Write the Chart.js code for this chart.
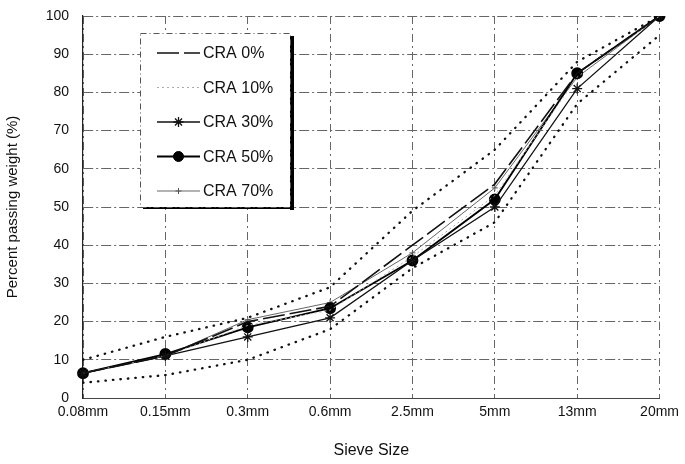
<!DOCTYPE html>
<html>
<head>
<meta charset="utf-8">
<script src="https://cdn.jsdelivr.net/npm/chart.js@4/dist/chart.umd.min.js"></script>
<style>
  html, body { margin: 0; padding: 0; background: #fff; }
  #wrap { width: 685px; height: 464px; }
</style>
</head>
<body>
<div id="wrap"><canvas id="chart" width="685" height="464"></canvas></div>
<script>
// Chart data
const sieveSizes = ["0.08mm", "0.15mm", "0.3mm", "0.6mm", "2.5mm", "5mm", "13mm", "20mm"];
const yTicks = [0, 10, 20, 30, 40, 50, 60, 70, 80, 90, 100];
const cra0 = [6.5, 11, 20, 24, 40, 56, 85, 100];
const cra10 = [6.5, 11, 19, 23, 37, 53, 84, 100];
const cra30 = [6.5, 11, 16, 21, 36, 50, 81, 100];
const cra50 = [6.5, 11.5, 18.5, 23.5, 36, 52, 85, 100];
const cra70 = [6.5, 11, 20.5, 25, 38, 55, 84, 100];
const upperLimit = [10, 16, 21, 29, 49, 65, 88, 100];
const lowerLimit = [4, 6, 10, 18, 34, 46, 77, 95];

const FONT = "'Liberation Sans', Arial, Helvetica, sans-serif";

const datasets = [
  { label: "CRA 0%", data: cra0, borderColor: "#111", borderWidth: 1.6, borderDash: [22, 5], pointRadius: 0, inLegend: true },
  { label: "CRA 10%", data: cra10, borderColor: "#aaa", borderWidth: 1, borderDash: [2, 3], pointRadius: 0, inLegend: true },
  { label: "CRA 30%", data: cra30, borderColor: "#111", borderWidth: 1.3, pointStyle: "star", pointRadius: 5, pointBorderWidth: 1.3, pointBorderColor: "#111", inLegend: true },
  { label: "CRA 50%", data: cra50, borderColor: "#000", borderWidth: 1.9, pointStyle: "circle", pointRadius: 5, pointBackgroundColor: "#000", pointBorderColor: "#000", inLegend: true },
  { label: "CRA 70%", data: cra70, borderColor: "#666", borderWidth: 1, pointStyle: "cross", pointRadius: 3, pointBorderColor: "#555", pointBorderWidth: 1, inLegend: true },
  { label: "Upper limit", data: upperLimit, borderColor: "#111", borderWidth: 2.3, borderDash: [0.5, 7], borderCapStyle: "round", pointRadius: 0, inLegend: false },
  { label: "Lower limit", data: lowerLimit, borderColor: "#111", borderWidth: 2.3, borderDash: [0.5, 7], borderCapStyle: "round", pointRadius: 0, inLegend: false },
];
datasets.forEach((d) => { d.fill = false; d.tension = 0; d.backgroundColor = d.borderColor; });

// Legend box drawn inside the plot, with a drop shadow
const boxLegend = {
  id: "boxLegend",
  afterDraw(chart) {
    const ctx = chart.ctx;
    const area = chart.chartArea;
    const x = area.left + 57, y = area.top + 17, w = 150, h = 174;
    ctx.save();
    ctx.fillStyle = "#000";
    ctx.fillRect(x + w, y + 3, 4, h);
    ctx.fillRect(x + 3, y + h, w + 1, 2);
    ctx.fillStyle = "#fff";
    ctx.fillRect(x, y, w, h);
    ctx.strokeStyle = "#555";
    ctx.lineWidth = 1;
    ctx.setLineDash([6, 3, 1, 3]);
    ctx.strokeRect(x + 0.5, y + 0.5, w, h);
    ctx.setLineDash([]);
    const items = chart.data.datasets.filter((d) => d.inLegend);
    items.forEach((d, i) => {
      const cy = y + 20 + i * 34.5;
      const x0 = x + 17, x1 = x + 60;
      ctx.strokeStyle = d.borderColor;
      ctx.lineWidth = d.borderWidth;
      ctx.setLineDash(d.borderDash || []);
      ctx.beginPath();
      ctx.moveTo(x0, cy);
      ctx.lineTo(x1, cy);
      ctx.stroke();
      ctx.setLineDash([]);
      if (d.pointRadius > 0 && Chart.helpers && Chart.helpers.drawPoint) {
        ctx.fillStyle = d.pointBackgroundColor || d.borderColor;
        ctx.strokeStyle = d.pointBorderColor || d.borderColor;
        ctx.lineWidth = d.pointBorderWidth || 1;
        Chart.helpers.drawPoint(ctx, { pointStyle: d.pointStyle, radius: d.pointRadius, rotation: 0, borderWidth: ctx.lineWidth }, (x0 + x1) / 2, cy);
      }
      ctx.fillStyle = "#111";
      ctx.font = "16px " + FONT;
      ctx.textBaseline = "middle";
      ctx.fillText(d.label, x + 63, cy + 1);
    });
    ctx.restore();
  },
};

const gridStyle = {
  color: "#666",
  lineWidth: 1,
  drawTicks: false,
};

new Chart(document.getElementById("chart"), {
  type: "line",
  data: { labels: sieveSizes, datasets },
  plugins: [boxLegend],
  options: {
    responsive: false,
    animation: false,
    layout: { padding: { left: 0, right: 19, top: 16, bottom: 0 } },
    plugins: { legend: { display: false }, tooltip: { enabled: false } },
    scales: {
      x: {
        offset: false,
        grid: gridStyle,
        border: { display: true, color: "#444", dash: [8, 4, 2, 4] },
        ticks: { color: "#111", font: { family: FONT, size: 14 }, padding: 6, maxRotation: 0, autoSkip: false },
        title: { display: true, text: "Sieve Size", color: "#111", font: { family: FONT, size: 16 }, padding: { top: 12 } },
        afterFit(scale) { scale.height = 66; },
      },
      y: {
        min: 0,
        max: 100,
        afterBuildTicks(scale) { scale.ticks = yTicks.map((v) => ({ value: v })); },
        grid: gridStyle,
        border: { display: true, color: "#222", width: 1.2, dash: [10, 3, 2, 3] },
        ticks: { color: "#111", font: { family: FONT, size: 14 }, padding: 14 },
        title: { display: true, text: "Percent passing weight (%)", color: "#111", font: { family: FONT, size: 15 }, padding: { bottom: 8 } },
        afterFit(scale) { scale.width = 83; scale.paddingTop = 0; scale.paddingBottom = 0; },
      },
    },
  },
});
</script>
</body>
</html>
